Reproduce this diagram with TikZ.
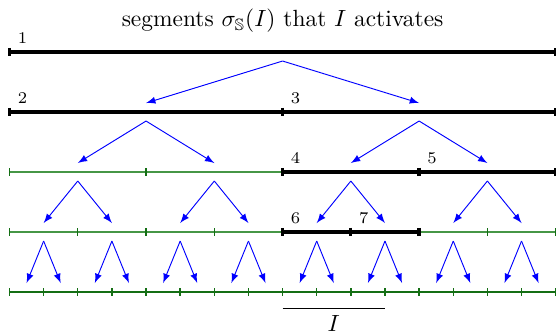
\documentclass[tikz,border=0pt]{standalone}
\usepackage{amssymb}
\definecolor{idlegreen}{RGB}{70,150,70}
\definecolor{tickgreen}{RGB}{20,110,20}
\tikzset{
  active/.style={line width=1.4pt, black},
  idle/.style={semithick, idlegreen},
  idletick/.style={semithick, tickgreen},
  act/.style={blue, -latex},
}
\begin{document}
\begin{tikzpicture}[x=0.512cm, y=0.9cm]
\useasboundingbox (-0.278,-4.683) rectangle (16.01,0.867);
\node (title) at (8,0.517) {segments \(\sigma_{\mathbb{S}}(I)\) that \(I\) activates};
% segments that are not activated
\foreach \y/\w in {-2/4, -3/2}{
    \draw[idle] (0,\y)--(16,\y);
    \foreach \x in {0,\w,...,16}{
        \draw[idletick] (\x,\y+0.06)--(\x,\y-0.06);
    }
}
\draw[idletick] (0,-4)--(16,-4);
\foreach \x in {0,...,16}{
    \draw[idletick] (\x,-3.94)--(\x,-4.06);
}
% activated segments
\foreach \a/\b/\y/\n in {0/16/0/1, 0/8/-1/2, 8/16/-1/3, 8/12/-2/4, 12/16/-2/5, 8/10/-3/6, 10/12/-3/7}{
    \draw[active] (\a,\y)--(\b,\y);
    \draw[active] (\a,\y+0.07)--(\a,\y-0.07);
    \draw[active] (\b,\y+0.07)--(\b,\y-0.07);
    \node[above right, font=\scriptsize] (lab\n) at (\a,\y) {\n};
}
% each segment splits into two halves
\foreach \y/\w/\n in {0/16/0, -1/8/1, -2/4/3, -3/2/7}{
    \foreach \i in {0,...,\n}{
        \coordinate (apex) at (\i*\w+\w/2,\y-0.15);
        \coordinate (lt) at (\i*\w+\w/4,\y-0.85);
        \coordinate (rt) at (\i*\w+3*\w/4,\y-0.85);
        \draw[act] (apex)--(lt);
        \draw[act] (apex)--(rt);
    }
}
\node (Ilab) at (9.5,-4.525) {\(I\)};
\draw[semithick] (8,-4.27)--(11,-4.27);
\end{tikzpicture}
\end{document}
